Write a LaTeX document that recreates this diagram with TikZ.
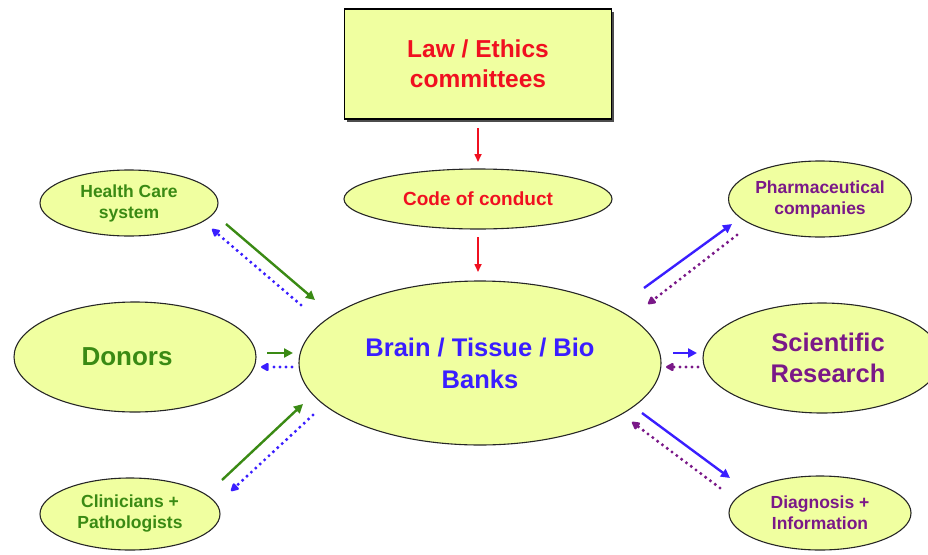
\documentclass[tikz,border=0pt]{standalone}
\usepackage{fontspec}
\setmainfont{Liberation Sans}
\usetikzlibrary{shapes.geometric,arrows.meta,shadows}
\definecolor{fillY}{HTML}{F0FFA0}
\definecolor{cRed}{HTML}{F01020}
\definecolor{cBlue}{HTML}{3A1EFF}
\definecolor{cGreen}{HTML}{3A8A14}
\definecolor{cPurple}{HTML}{7A1888}
\tikzset{
  oval/.style={ellipse, draw=black!85, line width=1.1pt, fill=fillY, inner sep=0pt, align=center, font=\bfseries},
  smalltext/.style={font=\fontsize{17.5}{21}\selectfont\bfseries},
  bigtext/.style={font=\fontsize{25.5}{31}\selectfont\bfseries},
  solidarr/.style={line width=2.4pt, -{Triangle[length=9pt,width=9pt]}},
  dotarr/.style={line width=3.4pt, line cap=round, dash pattern=on 0pt off 6pt, -{Triangle[length=9pt,width=9pt,round]}},
}
\begin{document}
\begin{tikzpicture}[x=1pt,y=-1pt]
\useasboundingbox (0,0) rectangle (928,554);
% top box
\node[draw=black, line width=1.3pt, fill=fillY, minimum width=267pt, minimum height=110pt, inner sep=0pt, align=center,
      font=\fontsize{24.5}{30}\selectfont\bfseries, text=cRed,
      drop shadow={shadow xshift=2.5pt, shadow yshift=-2.5pt, fill=black!70, opacity=1}]
  (law) at (478,64) {Law / Ethics\\committees};
\node[oval, minimum width=268pt, minimum height=60pt, text=cRed, font=\fontsize{19}{22}\selectfont\bfseries] (code) at (478,199) {Code of conduct};
\node[oval, minimum width=362pt, minimum height=164pt, text=cBlue, font=\fontsize{25.5}{32}\selectfont\bfseries] (bank) at (480,363) {Brain / Tissue / Bio\\Banks};
% left
\node[oval, minimum width=178pt, minimum height=66pt, text=cGreen, smalltext] (hc) at (129,203) {Health Care\\system};
\node[oval, minimum width=242pt, minimum height=110pt, text=cGreen, font=\fontsize{26}{30}\selectfont\bfseries] (don) at (135,357) {Donors\hspace*{16pt}};
\node[oval, minimum width=180pt, minimum height=72pt, text=cGreen, smalltext] (clin) at (130,514) {Clinicians +\\Pathologists};
% right
\node[oval, minimum width=182pt, minimum height=76pt, text=cPurple, smalltext] (pharma) at (820,199) {Pharmaceutical\\companies};
\node[oval, minimum width=238pt, minimum height=110pt, text=cPurple, bigtext] (sci) at (822,358) {\hspace*{12pt}Scientific\\\hspace*{12pt}Research};
\node[oval, minimum width=182pt, minimum height=74pt, text=cPurple, smalltext] (diag) at (820,513) {Diagnosis +\\Information};
% arrow end points
\coordinate (a1) at (478,128); \coordinate (a2) at (478,162);
\coordinate (b1) at (478,237); \coordinate (b2) at (478,272);
\coordinate (h1) at (226,224); \coordinate (h2) at (315,300);
\coordinate (h3) at (301,305); \coordinate (h4) at (212,229);
\coordinate (d1) at (267,353); \coordinate (d2) at (293,353);
\coordinate (d3) at (292,367); \coordinate (d4) at (261,367);
\coordinate (c1) at (222,480); \coordinate (c2) at (303,404);
\coordinate (c3) at (313,415); \coordinate (c4) at (231,491);
\coordinate (p1) at (644,288); \coordinate (p2) at (732,224);
\coordinate (p3) at (737,235); \coordinate (p4) at (648,304);
\coordinate (s1) at (673,353); \coordinate (s2) at (697,353);
\coordinate (s3) at (698,367); \coordinate (s4) at (666,367);
\coordinate (g1) at (642,413); \coordinate (g2) at (730,478);
\coordinate (g3) at (720,488); \coordinate (g4) at (632,422);
% arrows
\draw[cRed, line width=1.6pt, -{Triangle[length=8pt,width=7pt]}] (a1) -- (a2);
\draw[cRed, line width=1.6pt, -{Triangle[length=8pt,width=7pt]}] (b1) -- (b2);
\draw[solidarr, cGreen] (h1) -- (h2);
\draw[dotarr, cBlue] (h3) -- (h4);
\draw[solidarr, cGreen] (d1) -- (d2);
\draw[dotarr, cBlue] (d3) -- (d4);
\draw[solidarr, cGreen] (c1) -- (c2);
\draw[dotarr, cBlue] (c3) -- (c4);
\draw[solidarr, cBlue] (p1) -- (p2);
\draw[dotarr, cPurple] (p3) -- (p4);
\draw[solidarr, cBlue] (s1) -- (s2);
\draw[dotarr, cPurple] (s3) -- (s4);
\draw[solidarr, cBlue] (g1) -- (g2);
\draw[dotarr, cPurple] (g3) -- (g4);
\end{tikzpicture}
\end{document}
